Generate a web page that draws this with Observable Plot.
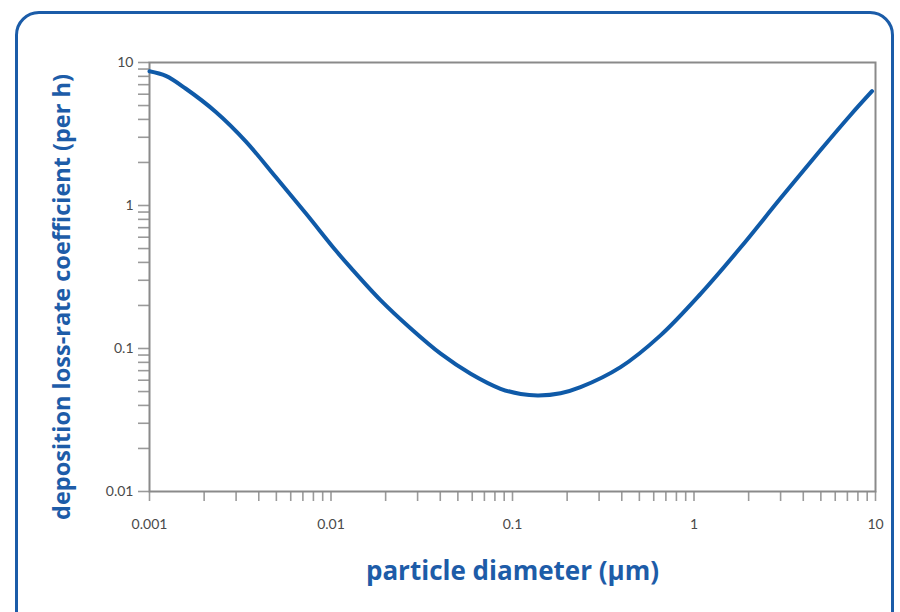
<!DOCTYPE html>
<html><head><meta charset="utf-8">
<script src="https://cdn.jsdelivr.net/npm/d3@7"></script>
<script src="https://cdn.jsdelivr.net/npm/@observablehq/plot@0.6"></script>
<style>
html,body{margin:0;padding:0;background:#fff;overflow:hidden;width:900px;height:612px}
#frame{position:absolute;left:15px;top:11px;width:879px;height:660px;border:3px solid #1b5ca8;border-radius:24px;box-sizing:border-box}
#chart{position:absolute;left:0;top:0}
</style></head><body><div id="frame"></div><div id="chart"></div>
<script>
// particle diameter (µm) and deposition loss-rate coefficient (per h)
const diameter = [0.001, 0.00123, 0.00158, 0.00232, 0.00339, 0.00496, 0.00726, 0.0106, 0.0128, 0.0188, 0.0275, 0.0402, 0.0588, 0.0859, 0.111, 0.139, 0.184, 0.237, 0.394, 0.654, 1.09, 1.8, 2.99, 4.97, 7.27, 9.57];
const lossRate = [8.69, 8.06, 6.58, 4.51, 2.81, 1.58, 0.882, 0.486, 0.369, 0.217, 0.138, 0.092, 0.0666, 0.0523, 0.0481, 0.047, 0.0487, 0.0537, 0.0741, 0.1235, 0.242, 0.506, 1.118, 2.434, 4.28, 6.30];

const majorX = [0.001, 0.01, 0.1, 1, 10];
const majorXLabels = ["0.001", "0.01", "0.1", "1", "10"];
const majorY = [0.01, 0.1, 1, 10];
const majorYLabels = ["0.01", "0.1", "1", "10"];
const minorMult = [2, 3, 4, 5, 6, 7, 8, 9];
const xLabel = "particle diameter (µm)";
const yLabel = "deposition loss-rate coefficient (per h)";

const data = diameter.map((d, i) => ({d, k: lossRate[i]}));
const minorX = majorX.slice(0, -1).flatMap(m => minorMult.map(f => m * f));
const minorY = majorY.slice(0, -1).flatMap(m => minorMult.map(f => m * f));
const fmtX = v => { const i = majorX.indexOf(v); return i >= 0 ? majorXLabels[i] : ""; };
const fmtY = v => { const i = majorY.indexOf(v); return i >= 0 ? majorYLabels[i] : ""; };

const blue = "#1d5ca8";
const titleFont = "'Open Sans', Lato, sans-serif";
const chart = Plot.plot({
  width: 900, height: 612,
  marginLeft: 149, marginRight: 25, marginTop: 62, marginBottom: 121,
  style: {fontFamily: "Lato, 'Open Sans', sans-serif", background: "transparent"},
  x: {type: "log", domain: [0.001, 10]},
  y: {type: "log", domain: [0.01, 10]},
  marks: [
    Plot.axisX({ticks: majorX.concat(minorX), tickFormat: fmtX, tickSize: 10, tickPadding: 18, stroke: "#9a9a9a", strokeWidth: 1.6, color: "#4a4a4a", fontSize: 14, label: null}),
    Plot.axisY({ticks: majorY.concat(minorY), tickFormat: fmtY, tickSize: 11, tickPadding: 5, stroke: "#9a9a9a", strokeWidth: 1.6, color: "#4a4a4a", fontSize: 14, label: null}),
    Plot.frame({stroke: "#8a8a8a", strokeWidth: 2}),
    Plot.line(data, {x: "d", y: "k", stroke: "#0f5aa8", strokeWidth: 4, curve: "catmull-rom"}),
    Plot.text([yLabel], {text: d => d, frameAnchor: "left", textAnchor: "middle", rotate: -90, dx: -87, dy: 20, fontSize: 23.5, fontWeight: "bold", fontFamily: titleFont, fill: blue}),
    Plot.text([xLabel], {text: d => d, frameAnchor: "bottom", textAnchor: "middle", dy: 88, fontSize: 26, fontWeight: "bold", fontFamily: titleFont, fill: blue})
  ]
});
document.getElementById("chart").appendChild(chart);
</script>
</body></html>
